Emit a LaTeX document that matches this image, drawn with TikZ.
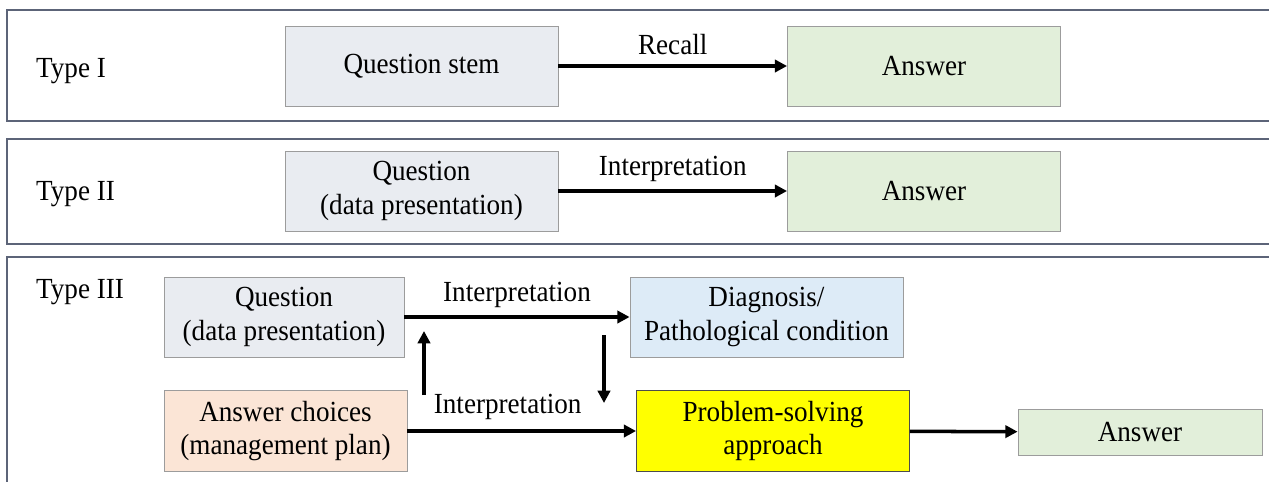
\documentclass[tikz,border=0pt]{standalone}
\usepackage{fontspec}
\setmainfont[FakeStretch=0.93]{Liberation Serif}
\usetikzlibrary{arrows.meta,positioning}
\definecolor{frame}{HTML}{5C6478}
\definecolor{boxline}{HTML}{9C9C9C}
\definecolor{qfill}{HTML}{E9ECF1}
\definecolor{afill}{HTML}{E2EFDA}
\definecolor{dfill}{HTML}{DDEBF7}
\definecolor{cfill}{HTML}{FBE5D6}
\definecolor{pfill}{HTML}{FFFF00}

\begin{document}
\begin{tikzpicture}[x=0.02cm,y=-0.02cm,>={Triangle[length=7pt,width=7pt]},
  every node/.style={font=\fontsize{16.6}{19}\selectfont},
  box/.style={draw=boxline,line width=0.5pt,align=center,inner sep=2pt,minimum width=5.46cm,minimum height=1.6cm},
  flow/.style={->,line width=2pt,black},
  panel/.style={draw=frame,line width=0.8pt}]
\useasboundingbox (0,0) rectangle (1269,481);
% panels
\draw[panel] (1269,10) -- (7,10) -- (7,121) -- (1269,121);
\draw[panel] (1269,139) -- (7,139) -- (7,244) -- (1269,244);
\draw[panel] (1269,257) -- (7,257) -- (7,485);
\node[anchor=west] (t1) at (30,71) {Type I};
\node[anchor=west] (t2) at (30,194) {Type II};
\node[anchor=west] (t3) at (30,292) {Type III};
% type I
\node[box,fill=qfill] (q1) at (421.5,66) {Question stem};
\node[box,fill=afill] (a1) at (924,66) {Answer};
\draw[flow] (q1) -- node[above=2pt] (r1) {Recall} (a1);
% type II
\node[box,fill=qfill] (q2) at (421.5,191) {Question\\(data presentation)};
\node[box,fill=afill] (a2) at (924,191) {Answer};
\draw[flow] (q2) -- node[above=1pt] (r2) {Interpretation} (a2);
% type III
\node[box,fill=qfill,minimum width=4.8cm] (q3) at (284,317) {Question\\(data presentation)};
\node[box,fill=dfill] (d3) at (766.5,317) {Diagnosis/\\Pathological condition};
\node[box,fill=cfill,minimum width=4.86cm,minimum height=1.62cm] (c3) at (285.5,431) {Answer choices\\(management plan)};
\node[box,fill=pfill,minimum height=1.62cm,draw=black!70] (p3) at (773,431) {Problem-solving\\approach};
\node[box,fill=afill,minimum width=4.88cm,minimum height=0.92cm] (a3) at (1140,432) {Answer};
\draw[flow] (q3.east) -- node[above=1pt] (r3) {Interpretation} (q3.east -| d3.west);
\draw[flow] (c3.east) -- node[above=2pt,xshift=-8pt] (r4) {Interpretation} (c3.east -| p3.west);
\draw[flow] (p3) -- (a3);
\coordinate (upfoot) at (424,395);
\coordinate (uptip) at (424,331);
\coordinate (dnfoot) at (604,335);
\coordinate (dntip) at (604,403);
\draw[flow] (upfoot) -- (uptip);
\draw[flow] (dnfoot) -- (dntip);
\end{tikzpicture}
\end{document}
